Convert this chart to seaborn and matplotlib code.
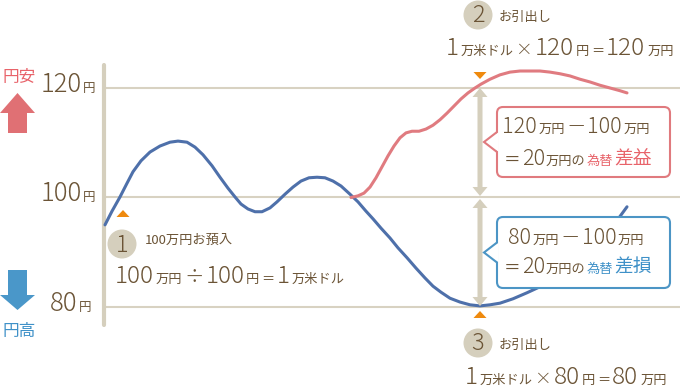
import matplotlib
matplotlib.use('Agg')
import matplotlib.pyplot as plt
import seaborn as sns
from matplotlib.patches import FancyBboxPatch, Polygon, Circle

# 円相場の推移（横軸は時間の流れ、縦軸は1ドルあたりの円）
t_blue = [105, 112, 120, 127, 133, 141, 150, 160, 170, 178, 187, 195, 203, 212, 220,
          228, 235, 241, 248, 255, 262, 270, 277, 285, 293, 301, 309, 317, 325, 333,
          341, 350, 358, 366, 373, 381, 390, 398, 407, 416, 425, 433, 441, 450, 460,
          470, 480, 490, 500, 513, 527, 540, 552, 564, 576, 588, 600, 613, 627]
rate_blue = [95.0, 97.5, 100.1, 102.6, 104.7, 106.7, 108.3, 109.4, 110.1, 110.3, 110.1,
             109.2, 107.8, 105.8, 103.7, 101.7, 100.1, 98.8, 97.9, 97.4, 97.4, 98.1,
             99.2, 100.6, 101.9, 103.0, 103.6, 103.7, 103.6, 103.0, 102.1, 100.6, 99.2,
             97.5, 96.1, 94.4, 92.6, 90.8, 89.0, 87.1, 85.3, 83.8, 82.7, 81.6, 80.9,
             80.4, 80.2, 80.4, 80.7, 81.5, 82.6, 83.7, 84.9, 86.4, 88.0, 89.9, 92.1,
             94.8, 98.3]

t_red = [351, 358, 364, 370, 376, 382, 388, 394, 400, 406, 412, 419, 426, 433, 440,
         447, 454, 461, 468, 475, 481, 490, 500, 510, 520, 530, 540, 550, 560, 570,
         580, 590, 600, 610, 620, 627]
rate_red = [100.0, 100.3, 100.8, 101.9, 103.6, 105.6, 107.6, 109.4, 110.9, 111.8,
            112.1, 112.1, 112.5, 113.2, 114.2, 115.4, 116.7, 118.0, 119.1, 120.0,
            120.7, 121.6, 122.4, 122.9, 123.1, 123.1, 123.1, 122.9, 122.6, 122.2,
            121.6, 121.1, 120.5, 120.0, 119.5, 119.1]

levels = [120, 100, 80]
level_labels = ['120', '100', '80']
t_deposit, t_withdraw = 123, 480

BROWN = '#6b5436'
RED = '#e8636a'
BLUE = '#3f91c8'
BEIGE = '#d5cfbd'
ORANGE = '#ef8a0e'

sns.set_style('white')
plt.rcParams['font.family'] = ['Noto Sans CJK JP', 'DejaVu Sans']

fig = plt.figure(figsize=(6.8, 3.9), dpi=100)
ax = fig.add_axes([0, 0, 1, 1])
ax.set_xlim(0, 680)
ax.set_ylim(64.84, 136.07)
ax.axis('off')

ov = fig.add_axes([0, 0, 1, 1], zorder=3)
ov.set_xlim(0, 680)
ov.set_ylim(390, 0)
ov.axis('off')
ov.patch.set_alpha(0)

renderer = fig.canvas.get_renderer()


def ypix(r):
    return 390 - ax.transData.transform((0, r))[1]


def rich(x, y, parts, gap=1):
    cur = x
    for p in parts:
        s, size = p[0], p[1]
        color = p[2] if len(p) > 2 else BROWN
        w = 'light' if s[0].isdigit() or s in '÷×－' else 'normal'
        t = ov.text(cur, y, s, fontsize=size, color=color, va='baseline',
                    ha='left', zorder=6, fontweight=w)
        cur += t.get_window_extent(renderer).width + gap
    return cur


# 目盛り線と縦軸
for lv in levels:
    ax.axhline(lv, xmin=104 / 680, xmax=1, color='#d8d2c2', lw=1.5, zorder=1)
ax.axvline(104, ymin=65 / 390, ymax=325 / 390, color=BEIGE, lw=3, zorder=2)

sns.lineplot(x=t_blue, y=rate_blue, ax=ax, color='#4e70aa', lw=2.2, sort=False,
             estimator=None, zorder=3)
sns.lineplot(x=t_red, y=rate_red, ax=ax, color='#e07b80', lw=2.2, sort=False,
             estimator=None, zorder=3)

# 縦軸ラベル
for lv, lab in zip(levels, level_labels):
    x0 = 41 if len(lab) == 3 else 50
    rich(x0, ypix(lv) + 4, [(lab, 18.5), ('円', 9)])

ov.text(2, 82, '円安', fontsize=12, color=RED, va='baseline')
ov.text(2, 336, '円高', fontsize=12, color=BLUE, va='baseline')
ov.add_patch(Polygon([(17.5, 93), (35, 113), (27, 113), (27, 133), (8, 133), (8, 113), (0, 113)],
                     closed=True, fc='#e07074', ec='none'))
ov.add_patch(Polygon([(8, 270), (27, 270), (27, 295), (35, 295), (17.5, 310), (0, 295), (8, 295)],
                     closed=True, fc='#4a97c9', ec='none'))

# 差額を示す矢印
def double_arrow(x, y_top, y_bot):
    hw, hl, sw = 7.5, 9, 2.5
    ov.add_patch(Polygon([(x, y_top), (x + hw, y_top + hl), (x + sw, y_top + hl),
                          (x + sw, y_bot - hl), (x + hw, y_bot - hl), (x, y_bot),
                          (x - hw, y_bot - hl), (x - sw, y_bot - hl),
                          (x - sw, y_top + hl), (x - hw, y_top + hl)],
                         closed=True, fc=BEIGE, ec='none', zorder=4))


double_arrow(t_withdraw, ypix(120), ypix(100) - 1.5)
double_arrow(t_withdraw, ypix(100) + 1.5, ypix(80) - 1)

# オレンジの三角
def tri(x, y, up=True):
    h = 7 if up else -7
    ov.add_patch(Polygon([(x - 6.5, y), (x + 6.5, y), (x, y - h)], closed=True,
                         fc=ORANGE, ec='none', zorder=5))


tri(t_deposit, 217, up=True)
tri(t_withdraw, 72, up=False)
tri(t_withdraw, 318, up=True)

# 番号の丸
for cx, cy, n in [(122, 244, '1'), (478, 15, '2'), (478, 343, '3')]:
    ov.add_patch(Circle((cx, cy), 14.5, fc=BEIGE, ec='none', zorder=5))
    ov.text(cx, cy + 1, n, fontsize=17, color=BROWN, ha='center', va='center',
            zorder=6, fontweight='light')

ov.text(145, 244, '100万円お預入', fontsize=9.5, color=BROWN, va='baseline')
ov.text(499, 21, 'お引出し', fontsize=9.5, color=BROWN, va='baseline')
ov.text(499, 349, 'お引出し', fontsize=9.5, color=BROWN, va='baseline')

B, S, M = 17.5, 9.5, 12
rich(115, 283, [('100', B), ('万円', S), ('÷', 14), ('100', B), ('円', S), ('＝', S),
                ('1', B), ('万米ドル', S)], gap=1.8)
rich(446, 55, [('1', B), ('万米ドル', S), ('×', M), ('120', B), ('円', S), ('＝', S),
               ('120', B), ('万円', S)], gap=2)
rich(465, 384, [('1', B), ('万米ドル', S), ('×', M), ('80', B), ('円', S), ('＝', S),
                ('80', B), ('万円', S)], gap=2)

# 吹き出し
def bubble(y0, h, color):
    ov.add_patch(FancyBboxPatch((497, y0), 173, h, boxstyle='round,pad=0,rounding_size=6',
                                fc='white', ec=color, lw=1.5, zorder=4))
    mid = y0 + h / 2
    ov.add_patch(Polygon([(498.5, mid - 10), (484, mid), (498.5, mid + 10)], closed=True,
                         fc='white', ec='none', zorder=5))
    ov.plot([497, 484, 497], [mid - 10, mid, mid + 10], color=color, lw=1.5, zorder=5,
            solid_joinstyle='miter')


bubble(107, 70, '#e07a7e')
bubble(217, 71, '#4c95c5')

BB, SS, DD = 15.5, 9.5, 14
rich(502, 133, [('120', BB), ('万円', SS), ('－', DD), ('100', BB), ('万円', SS)], gap=1.5)
rich(504, 165, [('＝', 12), ('20', BB), ('万円の', SS), ('為替', SS, RED), ('差益', 13.5, RED)])
rich(508, 244, [('80', BB), ('万円', SS), ('－', DD), ('100', BB), ('万円', SS)], gap=1.5)
rich(504, 273, [('＝', 12), ('20', BB), ('万円の', SS), ('為替', SS, BLUE), ('差損', 13.5, BLUE)])

fig.savefig('out.png', dpi=100)
